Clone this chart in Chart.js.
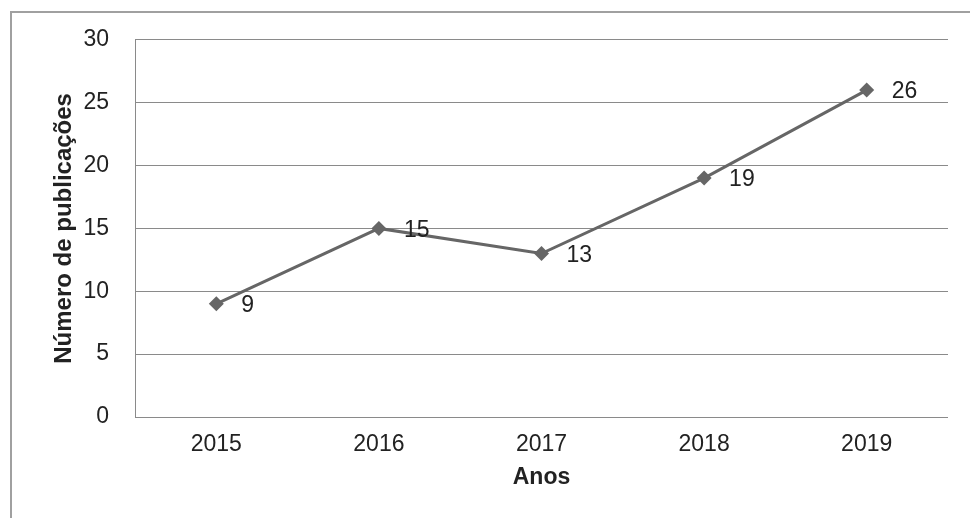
<!DOCTYPE html>
<html>
<head>
<meta charset="utf-8">
<script src="https://cdn.jsdelivr.net/npm/chart.js@4/dist/chart.umd.min.js"></script>
<style>
  html, body { margin: 0; padding: 0; background: #fff; overflow: hidden; }
  #wrap { position: relative; width: 970px; height: 518px; }
</style>
</head>
<body>
<div id="wrap"><canvas id="chart" width="970" height="518"></canvas></div>
<script>
// Publications per year
const years = ['2015', '2016', '2017', '2018', '2019'];
const publications = [9, 15, 13, 19, 26];

const yTicks = [0, 5, 10, 15, 20, 25, 30];
const xTitle = 'Anos';
const yTitle = 'Número de publicações';

const FONT = '"Liberation Sans", Arial, sans-serif';
const GRID = '#8a8a8a';
const INK = '#222';

// Outer frame around the whole figure
const framePlugin = {
  id: 'frame',
  beforeDraw(chart) {
    const ctx = chart.ctx;
    ctx.save();
    ctx.strokeStyle = '#a0a0a0';
    ctx.lineWidth = 2;
    ctx.strokeRect(11, 12, 1000, 600);
    ctx.restore();
  }
};

// Value written to the right of each point
const valueLabels = {
  id: 'valueLabels',
  afterDatasetsDraw(chart) {
    const ctx = chart.ctx;
    const meta = chart.getDatasetMeta(0);
    const values = chart.data.datasets[0].data;
    ctx.save();
    ctx.font = '23px ' + FONT;
    ctx.fillStyle = INK;
    ctx.textAlign = 'left';
    ctx.textBaseline = 'middle';
    meta.data.forEach((pt, i) => {
      ctx.fillText(String(values[i]), pt.x + 25, pt.y + 2);
    });
    ctx.restore();
  }
};

new Chart(document.getElementById('chart'), {
  type: 'line',
  data: {
    labels: years,
    datasets: [{
      data: publications,
      borderColor: '#666666',
      backgroundColor: '#666666',
      borderWidth: 3,
      tension: 0,
      pointStyle: 'rectRot',
      pointRadius: 7.5,
      pointBorderWidth: 0,
      pointBackgroundColor: '#666666',
    }],
  },
  options: {
    responsive: false,
    animation: false,
    layout: { padding: { top: 33, right: 22, left: 0, bottom: 0 } },
    plugins: {
      legend: { display: false },
      tooltip: { enabled: false },
    },
    scales: {
      x: {
        offset: true,
        grid: { display: false, drawTicks: false },
        border: { display: false },
        ticks: { color: INK, font: { family: FONT, size: 23 }, padding: 14, maxRotation: 0 },
        title: {
          display: true,
          text: xTitle,
          color: INK,
          font: { family: FONT, size: 23, weight: 'bold' },
          padding: { top: 0, bottom: 27 },
        },
        afterFit(scale) { scale.height = 101; },
      },
      y: {
        min: 0,
        max: 30,
        afterBuildTicks(scale) { scale.ticks = yTicks.map(v => ({ value: v })); },
        grid: { color: GRID, lineWidth: 1, drawTicks: false },
        border: { display: true, color: GRID, width: 1 },
        ticks: { color: INK, font: { family: FONT, size: 23 }, padding: 26 },
        title: {
          display: true,
          text: yTitle,
          color: INK,
          font: { family: FONT, size: 24, weight: 'bold' },
          padding: { top: 50, bottom: 0 },
        },
        afterFit(scale) { scale.width = 135; },
      },
    },
  },
  plugins: [framePlugin, valueLabels],
});
</script>
</body>
</html>
